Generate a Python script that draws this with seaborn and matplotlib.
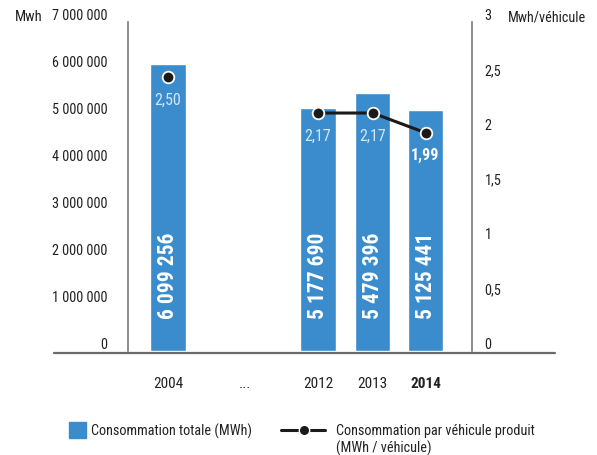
import matplotlib
matplotlib.use("Agg")
import matplotlib.pyplot as plt
from matplotlib import font_manager
from matplotlib.lines import Line2D
from matplotlib.patches import Rectangle
import numpy as np
import pandas as pd
import seaborn as sns

# --- data -------------------------------------------------------------
years = ["2004", "...", "2012", "2013", "2014"]
x_pos = [0.0, 1.42, 2.78, 3.79, 4.77]
consommation_totale = [6099256, np.nan, 5177690, 5479396, 5125441]
consommation_vehicule = [2.50, np.nan, 2.17, 2.17, 1.99]
left_ticks = [0, 1e6, 2e6, 3e6, 4e6, 5e6, 6e6, 7e6]
left_labels = ["0", "1 000 000", "2 000 000", "3 000 000", "4 000 000",
               "5 000 000", "6 000 000", "7 000 000"]
right_ticks = [0, 0.5, 1, 1.5, 2, 2.5, 3]
right_labels = ["0", "0,5", "1", "1,5", "2", "2,5", "3"]
# ----------------------------------------------------------------------

sns.set_theme(style="white")

# pick a narrow sans-serif if one is available
fonts = font_manager.fontManager.ttflist
names = {f.name for f in fonts}
family = "DejaVu Sans"
for cand in ["Liberation Sans Narrow", "Roboto Condensed", "Open Sans Condensed",
             "Noto Sans Condensed", "Arial Narrow"]:
    if cand in names:
        family = cand
        break
plt.rcParams["font.family"] = [family, "DejaVu Sans"]
if family == "DejaVu Sans" and any(f.name == "DejaVu Sans" and "condensed" in str(f.stretch)
                                   for f in fonts):
    plt.rcParams["font.stretch"] = "condensed"

BLUE = "#3a8ccd"
TXT = "#222222"
GREY = "#7a7a7a"
FS = 10.3

W, H = 597, 456
fig = plt.figure(figsize=(W / 100, H / 100), dpi=100)
ax = fig.add_axes([128 / W, 104 / H, 344 / W, 329 / H])

df = pd.DataFrame({"x": x_pos, "year": years,
                   "total": consommation_totale, "veh": consommation_vehicule})
bars = df.dropna(subset=["total"])
sns.barplot(data=bars, x="x", y="total", native_scale=True, width=0.667,
            color=BLUE, saturation=1, ax=ax)

ax.set_xlim(-0.74, 5.63)
ax.set_ylim(0, 7e6)
ax.set_xlabel("")
ax.set_ylabel("")
ax.set_yticks(left_ticks, left_labels)
ax.tick_params(axis="y", length=0, pad=15, labelsize=FS, labelcolor=TXT)
for t in ax.get_yticklabels():
    t.set_verticalalignment("bottom")
ax.set_xticks(x_pos, years)
ax.tick_params(axis="x", length=0, pad=18, labelsize=11, labelcolor=TXT)
ax.get_xticklabels()[-1].set_fontweight("bold")
for s in ["top", "bottom", "right"]:
    ax.spines[s].set_visible(False)
ax.spines["left"].set_color(GREY)
ax.spines["left"].set_linewidth(1.2)

# rotated totals inside the bars
for xv, v in zip(bars["x"], bars["total"]):
    lab = f"{int(v):,}".replace(",", " ")
    ax.annotate(lab, xy=(xv, 0), xytext=(0, 24), textcoords="offset points",
                rotation=90, ha="center", va="bottom", color="white",
                fontsize=15.5, fontweight="bold")

# secondary axis: consumption per vehicle
ax2 = ax.twinx()
ax2.set_ylim(0, 3)
line = df.dropna(subset=["veh"])
connected = line[line["year"].isin(["2012", "2013", "2014"])]
sns.lineplot(data=connected, x="x", y="veh", color="#1a1a1a", lw=2.2,
             ax=ax2, legend=False)
sns.scatterplot(data=line, x="x", y="veh", color="#1a1a1a", s=70,
                edgecolor="white", linewidth=1.3, zorder=5, ax=ax2, legend=False)
for _, r in line.iterrows():
    lab = f"{r['veh']:.2f}".replace(".", ",")
    bold = r["year"] == "2014"
    ax2.annotate(lab, xy=(r["x"], r["veh"]), xytext=(0, -16),
                 textcoords="offset points", ha="center", va="center",
                 fontsize=11.5,
                 fontweight="bold" if bold else "normal",
                 color="white" if bold else "#d4e6f5")
ax2.set_xlabel("")
ax2.set_ylabel("")
ax2.set_xlim(-0.74, 5.63)
ax2.set_yticks(right_ticks, right_labels)
ax2.tick_params(axis="y", length=0, pad=9, labelsize=FS, labelcolor=TXT)
for t in ax2.get_yticklabels():
    t.set_verticalalignment("bottom")
for s in ["top", "bottom", "left"]:
    ax2.spines[s].set_visible(False)
ax2.spines["right"].set_color(GREY)
ax2.spines["right"].set_linewidth(1.2)
ax2.grid(False)
ax.grid(False)

# unit labels
fig.text(15 / W, 1 - 17 / H, "Mwh", ha="left", va="center", fontsize=FS + 0.2, color=TXT)
fig.text(508 / W, 1 - 17 / H, "Mwh/véhicule", ha="left", va="center",
         fontsize=FS, color=TXT)

# baseline
fig.add_artist(Line2D([54 / W, 555 / W], [1 - 354 / H] * 2, color="#6a6a6a", lw=1.6))

# legend
fig.add_artist(Rectangle((69 / W, 1 - 439 / H), 17 / W, 16 / H,
                         transform=fig.transFigure, color=BLUE))
fig.text(91 / W, 1 - 431 / H, "Consommation totale (MWh)", ha="left",
         va="center", fontsize=FS, color=TXT)
fig.add_artist(Line2D([281 / W, 325 / W], [1 - 431 / H] * 2, color="#1a1a1a", lw=2.2))
fig.add_artist(Line2D([304 / W], [1 - 431 / H], marker="o", markersize=7.5,
                      color="#1a1a1a", markeredgecolor="white", markeredgewidth=1))
fig.text(336 / W, 1 - 431 / H, "Consommation par véhicule produit", ha="left",
         va="center", fontsize=FS, color=TXT)
fig.text(336 / W, 1 - 448 / H, "(MWh / véhicule)", ha="left",
         va="center", fontsize=FS, color=TXT)

fig.savefig("out.png", dpi=100, facecolor="white")
